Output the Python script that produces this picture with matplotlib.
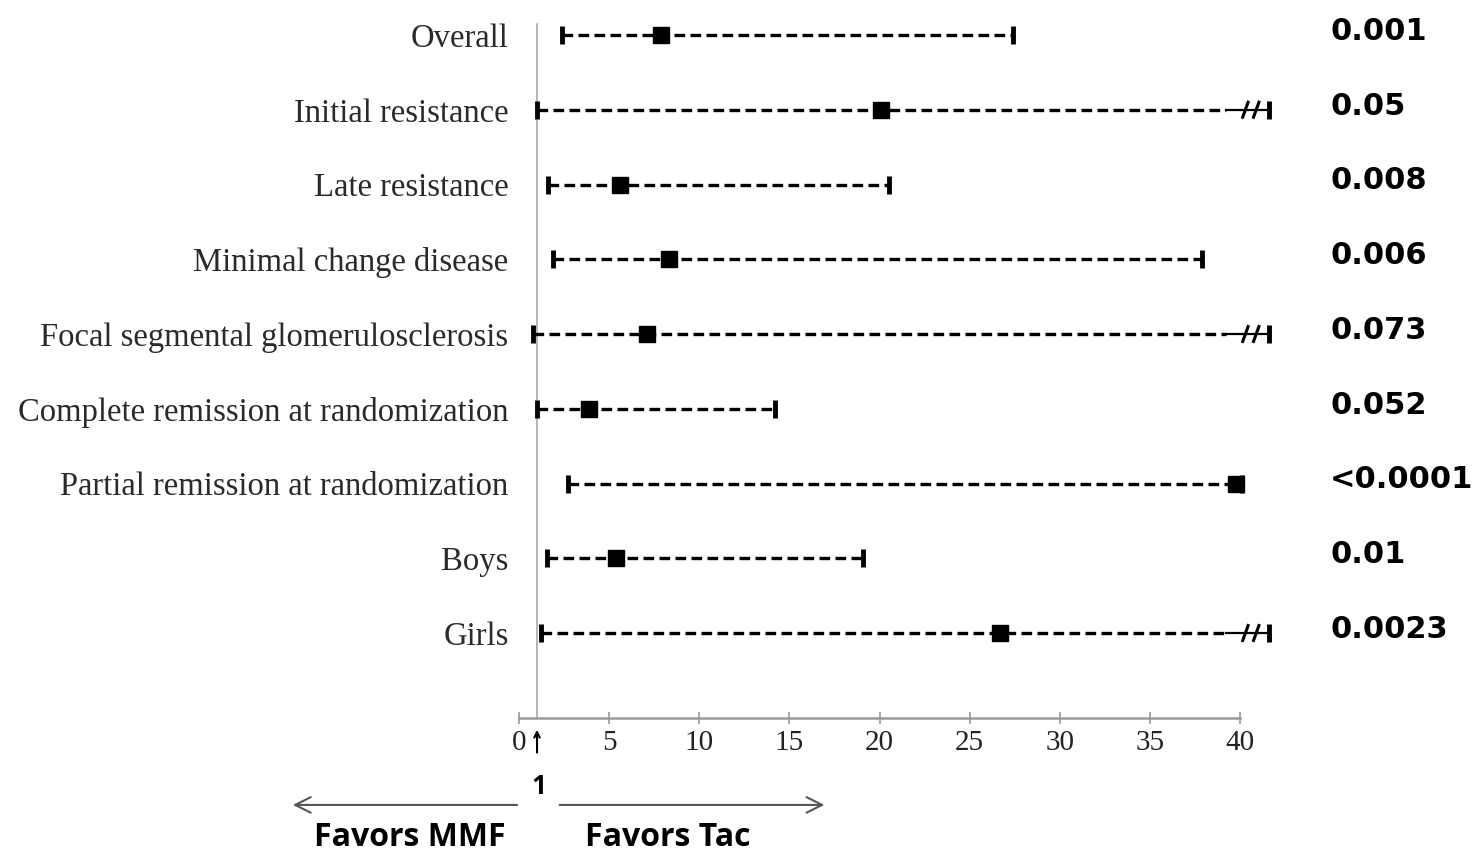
import matplotlib
matplotlib.use("Agg")
import matplotlib.pyplot as plt

# Subgroup estimates (odds ratio with 95% CI) and p-values
subgroups = [
    "Overall",
    "Initial resistance",
    "Late resistance",
    "Minimal change disease",
    "Focal segmental glomerulosclerosis",
    "Complete remission at randomization",
    "Partial remission at randomization",
    "Boys",
    "Girls",
]
estimate = [7.9, 20.1, 5.6, 8.3, 7.1, 3.9, 39.8, 5.4, 26.7]
ci_lower = [2.4, 1.0, 1.6, 1.9, 0.8, 1.0, 2.7, 1.55, 1.2]
ci_upper = [27.4, 41.6, 20.5, 37.9, 41.6, 14.2, 40.1, 19.1, 41.6]
ci_broken = [False, True, False, False, True, False, False, False, True]
p_values = ["0.001", "0.05", "0.008", "0.006", "0.073", "0.052", "<0.0001", "0.01", "0.0023"]
x_ticks = [0, 5, 10, 15, 20, 25, 30, 35, 40]

W, H = 1477, 859
fig = plt.figure(figsize=(W / 100, H / 100), dpi=100)

# axes: x=0 at px 519, 40 at px 1240; rows from y px 35 to 633, x-axis at 718
xmin, xmax = -0.5, 42.5
ppu = (1240 - 519) / 40.0
left_px = 519 + xmin * ppu
right_px = 519 + xmax * ppu
row_px = 74.75
ytop = -(35 - 10) / row_px
ybot = (718 - 35) / row_px
ax = fig.add_axes([left_px / W, 1 - 718 / H, (right_px - left_px) / W, (718 - 10) / H])
ax.set_xlim(xmin, xmax)
ax.set_ylim(ybot, ytop)

for s in ["top", "right", "left"]:
    ax.spines[s].set_visible(False)
ax.spines["bottom"].set_bounds(0, 40)
ax.spines["bottom"].set_color("#9a9a9a")
ax.spines["bottom"].set_linewidth(1.8)

serif = "Liberation Serif"
ax.set_xticks(x_ticks)
ax.set_xticklabels([str(t) for t in x_ticks], fontfamily=serif, fontsize=21, color="#222222")
ax.tick_params(axis="x", direction="inout", length=9, width=1.2, color="#9a9a9a", pad=4)

ypos = list(range(len(subgroups)))
ax.set_yticks(ypos)
ax.set_yticklabels(subgroups, fontfamily=serif, fontsize=23.5, color="#2a2a2a")
ax.tick_params(axis="y", length=0, pad=1)

# reference line at 1
ax.plot([1, 1], [-0.15, ybot], color="#b0b0b0", lw=1.3, zorder=1)

dash = (0, (3.2, 1.6))
for y, est, lo, hi, br in zip(ypos, estimate, ci_lower, ci_upper, ci_broken):
    if br:
        ax.plot([lo, 39.2], [y, y], color="black", lw=2.4, ls=dash, zorder=2)
        ax.plot([39.2, hi], [y, y], color="black", lw=1.6, zorder=2)
        for xs in (40.3, 40.9):
            ax.plot([xs - 0.15, xs + 0.15], [y + 0.1, y - 0.1], color="black", lw=2.2, zorder=3)
    else:
        ax.plot([lo, hi], [y, y], color="black", lw=2.4, ls=dash, zorder=2)
    ax.plot([lo, hi], [y, y], ls="none", marker="|", ms=13, mew=3.5, color="black", zorder=3)
    ax.plot([est], [y], marker="s", ms=11, color="black", zorder=4)

# p-values on the right
for y, p in zip(ypos, p_values):
    ax.text(45.0, y - 0.05, p, ha="left", va="center", fontsize=22,
            fontweight="bold", fontfamily="DejaVu Sans", color="black", clip_on=False)

# arrow marking 1 and direction of effect
ax.annotate("", xy=(1, ybot + 0.12), xytext=(1, ybot + 0.5),
            arrowprops=dict(arrowstyle="->", color="black", lw=1.5), annotation_clip=False)
ax.text(1.1, 10.05, "1", ha="center", va="center", fontsize=19, fontweight="bold",
        fontfamily="Open Sans", clip_on=False)
ax.annotate("", xy=(-12.7, 10.3), xytext=(0.05, 10.3),
            arrowprops=dict(arrowstyle="->", color="#555555", lw=1.5,
                            mutation_scale=28), annotation_clip=False)
ax.annotate("", xy=(17.1, 10.3), xytext=(2.1, 10.3),
            arrowprops=dict(arrowstyle="->", color="#555555", lw=1.5,
                            mutation_scale=28), annotation_clip=False)
ax.text(-6.05, 10.74, "Favors MMF", ha="center", va="center", fontsize=23,
        fontweight="bold", fontfamily="Open Sans", clip_on=False)
ax.text(8.27, 10.74, "Favors Tac", ha="center", va="center", fontsize=23,
        fontweight="bold", fontfamily="Open Sans", clip_on=False)

fig.savefig("out.png", dpi=100, facecolor="white")
